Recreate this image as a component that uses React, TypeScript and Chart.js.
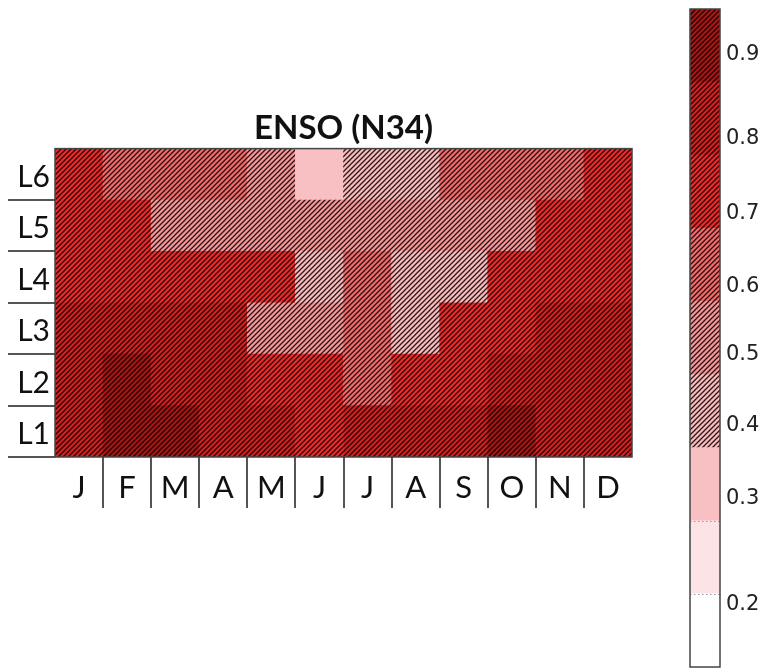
import React, { useEffect, useRef } from "react";
import { Chart, registerables } from "chart.js";

Chart.register(...registerables);

// ---------- data ----------
const TITLE = "ENSO (N34)";
const MONTHS = ["J", "F", "M", "A", "M", "J", "J", "A", "S", "O", "N", "D"];
const ROW_LABELS = ["L6", "L5", "L4", "L3", "L2", "L1"]; // top to bottom

const L6 = [0.72, 0.6, 0.6, 0.6, 0.5, 0.33, 0.42, 0.42, 0.6, 0.6, 0.6, 0.72];
const L5 = [0.74, 0.74, 0.55, 0.55, 0.5, 0.5, 0.5, 0.5, 0.5, 0.5, 0.74, 0.72];
const L4 = [0.76, 0.76, 0.76, 0.76, 0.76, 0.44, 0.6, 0.44, 0.44, 0.74, 0.74, 0.76];
const L3 = [0.8, 0.8, 0.8, 0.8, 0.52, 0.52, 0.6, 0.44, 0.76, 0.76, 0.82, 0.82];
const L2 = [0.84, 0.88, 0.82, 0.82, 0.74, 0.74, 0.6, 0.76, 0.76, 0.82, 0.84, 0.84];
const L1 = [0.82, 0.88, 0.88, 0.82, 0.78, 0.76, 0.78, 0.78, 0.8, 0.88, 0.86, 0.84];
const ROWS_BOTTOM_UP = [L1, L2, L3, L4, L5, L6];

// colour levels (band boundaries) of the colour bar
const LEVELS = [0.14, 0.21, 0.27, 0.37, 0.47, 0.58, 0.68, 0.78, 0.87, 0.95];
const BAND_COLORS = [
  "#ffffff",
  "#fce3e6",
  "#f8c0c2",
  "#f8bcbe",
  "#f59698",
  "#f26a6a",
  "#ee2a2a",
  "#d42020",
  "#a81616",
];
const BAND_HATCHED = [false, false, false, true, true, true, true, true, true];
const CBAR_TICKS = [0.2, 0.3, 0.4, 0.5, 0.6, 0.7, 0.8, 0.9];

// ---------- helpers ----------
function bandIndex(v: number): number {
  for (let k = 0; k < LEVELS.length - 1; k++) {
    if (v >= LEVELS[k] && v < LEVELS[k + 1]) return k;
  }
  return v < LEVELS[0] ? 0 : LEVELS.length - 2;
}

function toUnit(v: number): number {
  for (let k = 0; k < LEVELS.length - 1; k++) {
    if (v >= LEVELS[k] && v <= LEVELS[k + 1]) {
      return k + (v - LEVELS[k]) / (LEVELS[k + 1] - LEVELS[k]);
    }
  }
  return 0;
}

function makePattern(color: string, hatched: boolean): CanvasPattern | string {
  const s = 5;
  const c = document.createElement("canvas");
  c.width = s;
  c.height = s;
  const g = c.getContext("2d");
  if (!g) return color;
  g.fillStyle = color;
  g.fillRect(0, 0, s, s);
  if (hatched) {
    g.strokeStyle = "rgba(15,0,0,0.88)";
    g.lineWidth = 1.3;
    g.beginPath();
    g.moveTo(-1, s + 1);
    g.lineTo(s + 1, -1);
    g.moveTo(-1, 1);
    g.lineTo(1, -1);
    g.moveTo(s - 1, s + 1);
    g.lineTo(s + 1, s - 1);
    g.stroke();
  }
  const p = g.createPattern(c, "repeat");
  return p || color;
}

const framePlugin = {
  id: "frame",
  afterDatasetsDraw(chart: any) {
    const { ctx, chartArea: a } = chart;
    ctx.save();
    ctx.strokeStyle = "#444";
    ctx.lineWidth = 1.5;
    ctx.strokeRect(a.left, a.top, a.right - a.left, a.bottom - a.top);
    ctx.restore();
  },
};

// dotted separators between the un-hatched light bands of the colour bar
const bandEdgePlugin = {
  id: "bandEdges",
  afterDatasetsDraw(chart: any) {
    const { ctx, chartArea: a, scales } = chart;
    const ys = scales.y;
    ctx.save();
    ctx.strokeStyle = "#999";
    ctx.lineWidth = 1;
    ctx.setLineDash([1.5, 2.5]);
    for (let k = 1; k < BAND_COLORS.length; k++) {
      if (BAND_HATCHED[k] || BAND_HATCHED[k - 1]) continue;
      const y = Math.round(ys.getPixelForValue(k)) + 0.5;
      ctx.beginPath();
      ctx.moveTo(a.left, y);
      ctx.lineTo(a.right, y);
      ctx.stroke();
    }
    ctx.restore();
  },
};

const LABEL_FONT = { family: "Lato", size: 31 };

export default function App() {
  const heatRef = useRef<HTMLCanvasElement>(null);
  const barRef = useRef<HTMLCanvasElement>(null);

  useEffect(() => {
    const patterns = BAND_COLORS.map((c, k) => makePattern(c, BAND_HATCHED[k]));

    const heat = new Chart(heatRef.current as HTMLCanvasElement, {
      type: "bar",
      data: {
        labels: MONTHS,
        datasets: ROWS_BOTTOM_UP.map((row, r) => ({
          label: ROW_LABELS[ROW_LABELS.length - 1 - r],
          data: row.map(() => [r, r + 1]),
          backgroundColor: row.map((v) => patterns[bandIndex(v)]),
          borderWidth: 0,
          barPercentage: 1,
          categoryPercentage: 1,
          yAxisID: "y",
        })) as any,
      },
      options: {
        animation: false,
        responsive: false,
        maintainAspectRatio: false,
        layout: { padding: { left: 0, right: 55, top: 0, bottom: 0 } },
        plugins: {
          legend: { display: false },
          tooltip: { enabled: false },
          title: {
            display: true,
            fullSize: false,
            text: TITLE,
            color: "#111",
            font: { family: "Lato", size: 33, weight: "bold" },
            padding: { top: 9, bottom: 0 },
          },
        },
        scales: {
          x: {
            type: "category",
            stacked: true,
            offset: true,
            grid: {
              offset: true,
              drawOnChartArea: false,
              tickLength: 51,
              lineWidth: 2,
              color: (ctx: any) =>
                ctx.index === undefined || ctx.index === 0 ? "rgba(0,0,0,0)" : "#555",
            },
            border: { display: false },
            ticks: {
              font: LABEL_FONT,
              color: "#111",
              padding: -38.6,
              autoSkip: false,
              maxRotation: 0,
            },
            afterFit: (s: any) => {
              s.height = 63;
            },
          },
          y: { type: "linear", display: false, min: 0, max: 6 },
          yl: {
            type: "category",
            position: "left",
            labels: ROW_LABELS,
            offset: true,
            grid: {
              offset: true,
              drawOnChartArea: false,
              tickLength: 47,
              lineWidth: 2,
              color: (ctx: any) => (ctx.index === 0 ? "rgba(0,0,0,0)" : "#555"),
            },
            border: { display: false },
            ticks: {
              font: { family: "Lato", size: 30 },
              color: "#111",
              padding: -42,
              labelOffset: 3,
            },
            afterFit: (s: any) => {
              s.width = 55;
            },
          },
        } as any,
      },
      plugins: [framePlugin],
    });

    const bar = new Chart(barRef.current as HTMLCanvasElement, {
      type: "bar",
      data: {
        labels: [""],
        datasets: BAND_COLORS.map((c, k) => ({
          label: String(LEVELS[k]),
          data: [[k, k + 1]],
          backgroundColor: patterns[k],
          borderWidth: 0,
          barPercentage: 1,
          categoryPercentage: 1,
        })) as any,
      },
      options: {
        animation: false,
        responsive: false,
        maintainAspectRatio: false,
        layout: { padding: { left: 10, right: 0, top: 9, bottom: 1 } },
        plugins: {
          legend: { display: false },
          tooltip: { enabled: false },
          title: { display: false },
        },
        scales: {
          x: { type: "category", stacked: true, display: false },
          y: {
            type: "linear",
            position: "right",
            min: 0,
            max: LEVELS.length - 1,
            grid: { display: false },
            border: { display: false },
            afterBuildTicks: (s: any) => {
              s.ticks = CBAR_TICKS.map((v) => ({ value: toUnit(v) }));
            },
            ticks: {
              callback: (_v: any, i: number) => CBAR_TICKS[i].toFixed(1),
              font: { family: "DejaVu Sans", size: 21 },
              color: "#222",
              padding: -2,
            },
            afterFit: (s: any) => {
              s.width = 46;
              s.paddingTop = 0;
              s.paddingBottom = 0;
            },
          },
        } as any,
      },
      plugins: [bandEdgePlugin, framePlugin],
    });

    return () => {
      heat.destroy();
      bar.destroy();
    };
  }, []);

  return (
    <div style={{ position: "absolute", left: 0, top: 0, width: 766, height: 668, background: "#fff" }}>
      <canvas
        ref={heatRef}
        width={687}
        height={420}
        style={{ position: "absolute", left: 0, top: 100, width: 687, height: 420 }}
      />
      <canvas
        ref={barRef}
        width={86}
        height={668}
        style={{ position: "absolute", left: 680, top: 0, width: 86, height: 668 }}
      />
    </div>
  );
}
